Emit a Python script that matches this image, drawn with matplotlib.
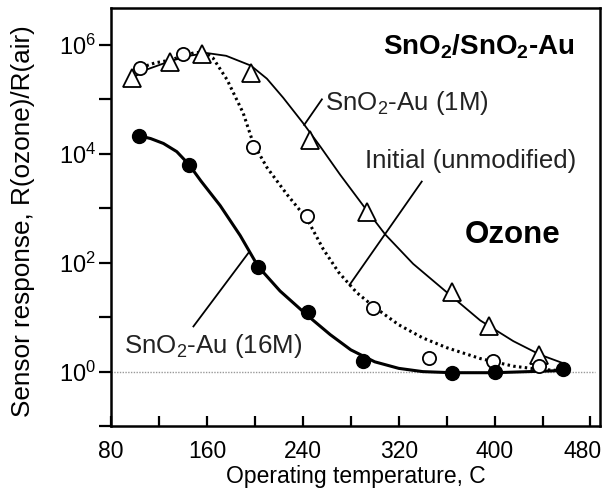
import numpy as np
import matplotlib
matplotlib.use("Agg")
import matplotlib.pyplot as plt
from matplotlib.transforms import ScaledTranslation

plt.rcParams['font.family'] = ['Liberation Sans', 'DejaVu Sans']
plt.rcParams['mathtext.fontset'] = 'custom'
plt.rcParams['mathtext.rm'] = 'Liberation Sans'
plt.rcParams['mathtext.it'] = 'Liberation Sans:italic'
plt.rcParams['mathtext.bf'] = 'Liberation Sans:bold'

# measured points (temperature in C, response as log10 value)
temp_1m = [97.5, 129, 155.7, 196.6, 246, 293.4, 364.4, 395, 436.7]
resp_1m = [5.39, 5.69, 5.83, 5.49, 4.26, 2.94, 1.455, 0.83, 0.31]

temp_init = [104.2, 140.4, 198.8, 243.4, 298.7, 345, 399, 436.7]
resp_init = [5.57, 5.83, 4.12, 2.85, 1.16, 0.25, 0.19, 0.10]

temp_16m = [103.6, 145.1, 202.4, 244.2, 290.6, 364.4, 400.5, 457]
resp_16m = [4.33, 3.80, 1.92, 1.09, 0.19, -0.02, -0.01, 0.04]

# fitted curves (log10 response)
fit_1m_t = [97.5, 110, 129, 145, 160, 176, 196.6, 210, 223.6, 240, 255, 271, 293.4,
            308.7, 332, 360.5, 388, 415.6, 438, 456.5]
fit_1m_r = [5.39, 5.55, 5.70, 5.80, 5.85, 5.80, 5.62, 5.38, 5.03, 4.57, 4.12, 3.62, 2.96,
            2.52, 1.98, 1.45, 0.94, 0.56, 0.31, 0.16]

fit_init_t = [98.4, 104.2, 116.7, 129.2, 140.1, 150, 158.5, 165, 176.8, 190.2, 198.5,
              210, 226.9, 243.6, 257, 270, 285, 300, 320, 340, 360, 388, 415.6, 438, 455]
fit_init_r = [5.43, 5.58, 5.67, 5.72, 5.80, 5.86, 5.86, 5.76, 5.36, 4.75, 4.20,
              3.75, 3.25, 2.80, 2.25, 1.82, 1.45, 1.18, 0.86, 0.62, 0.44, 0.24, 0.10, 0.04, 0.02]

fit_16m_t = [103.6, 113, 123.7, 134.8, 145.1, 155, 171, 187.7, 202.7, 221, 244.4,
             262.8, 280, 300, 320, 340, 364.6, 400, 457]
fit_16m_r = [4.33, 4.28, 4.19, 4.04, 3.80, 3.50, 3.05, 2.50, 1.93, 1.48, 1.02,
             0.68, 0.40, 0.18, 0.06, 0.00, -0.02, -0.02, 0.02]

y_ticks = [0, 2, 4, 6]
y_minor = [-1, 1, 3, 5]
x_ticks = [80, 160, 240, 320, 400, 480]


def lin(v):
    return 10 ** np.asarray(v, dtype=float)


fig = plt.figure(figsize=(6.07, 4.92), dpi=100)
ax = fig.add_axes([0.183, 0.134, 0.8056, 0.850])

ax.axhline(1, xmax=0.99, color='#999999', lw=1.0, ls=(0, (1, 1)), zorder=1)

ax.plot(fit_1m_t, lin(fit_1m_r), color='black', lw=1.3, zorder=2)
ax.plot(fit_init_t, lin(fit_init_r), color='black', lw=2.2, ls=(0, (0.8, 1.1)), zorder=2)
ax.plot(fit_16m_t, lin(fit_16m_r), color='black', lw=2.2, zorder=2)

ax.plot(temp_1m, lin(resp_1m), ls='none', marker='^', ms=12.5, mfc='white', mec='black', mew=1.3, zorder=4)
ax.plot(temp_init, lin(resp_init), ls='none', marker='o', ms=9.5, mfc='white', mec='black', mew=1.3, zorder=4)
ax.plot(temp_16m, lin(resp_16m), ls='none', marker='o', ms=10, mfc='black', mec='black', zorder=5)

# leader lines
ax.plot([255.9, 241.1], lin([5.0, 4.53]), color='black', lw=1.3)
ax.plot([339.2, 278.9], lin([3.49, 1.59]), color='black', lw=1.3)
ax.plot([148.7, 194.6], lin([0.83, 2.18]), color='black', lw=1.3)

ax.text(467, lin(5.82), r'SnO$_\mathbf{2}$/SnO$_\mathbf{2}$-Au', fontsize=20, fontweight='bold',
        ha='right', va='baseline')
ax.text(375.5, lin(2.37), 'Ozone', fontsize=22.5, fontweight='bold', ha='left', va='baseline')
ax.text(258.6, lin(4.81), r'SnO$_2$-Au (1M)', fontsize=18.6, color='#222222', ha='left', va='baseline')
ax.text(292, lin(3.74), 'Initial (unmodified)', fontsize=18.6, color='#222222', ha='left', va='baseline')
ax.text(90.9, lin(0.35), r'SnO$_2$-Au (16M)', fontsize=18.6, color='#222222', ha='left', va='baseline')

ax.set_yscale('log')
ax.set_xlim(80, 488)
ax.set_ylim(0.1, lin(6.68))
ax.set_xticks(x_ticks)
ax.set_xticks([120, 200, 280, 360, 440], minor=True)
ax.set_yticks(lin(y_ticks))
ax.set_yticklabels([r'$\mathregular{10^{%d}}$' % v for v in y_ticks])
ax.set_yticks(lin(y_minor), minor=True)
ax.yaxis.set_minor_formatter(matplotlib.ticker.NullFormatter())

ax.tick_params(axis='x', which='both', direction='in', length=7.5, width=1.6, labelsize=16.5, pad=10)
ax.tick_params(axis='y', which='both', direction='out', length=9, width=1.6, labelsize=17, pad=2)
for s in ax.spines.values():
    s.set_linewidth(1.8)

# last x label sits a little left of its tick, as in the original
last = ax.xaxis.get_majorticklabels()[-1]
last.set_transform(last.get_transform() + ScaledTranslation(-6 / 72, 0, fig.dpi_scale_trans))

ax.set_xlabel('Operating temperature, C', fontsize=16.5)
ax.xaxis.set_label_coords(0.5, -0.092)
ax.set_ylabel('Sensor response, R(ozone)/R(air)', fontsize=18.8)
ax.yaxis.set_label_coords(-0.155, 0.49)

fig.savefig('out.png', dpi=100)
